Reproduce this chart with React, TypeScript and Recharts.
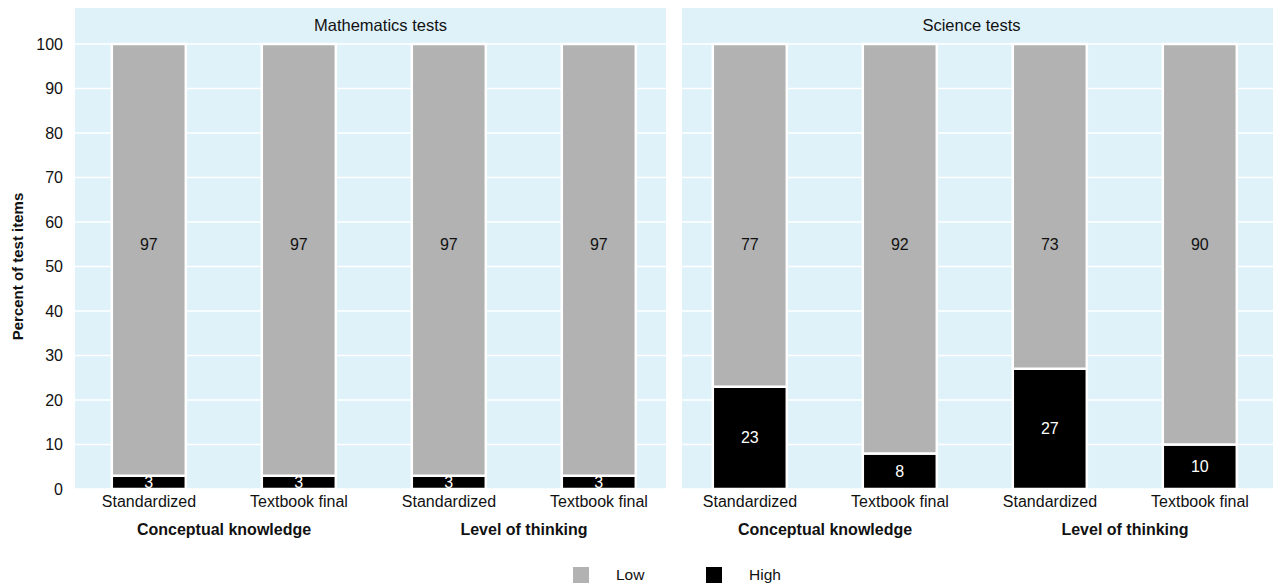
import React from 'react';
import { BarChart, Bar, XAxis, YAxis, CartesianGrid, LabelList, Label } from 'recharts';

const categories = ['Standardized', 'Textbook final', 'Standardized', 'Textbook final'];
const groups = ['Conceptual knowledge', 'Conceptual knowledge', 'Level of thinking', 'Level of thinking'];
const mathLow = [97, 97, 97, 97];
const mathHigh = [3, 3, 3, 3];
const sciLow = [77, 92, 73, 90];
const sciHigh = [23, 8, 27, 10];
const yTicks = [0, 10, 20, 30, 40, 50, 60, 70, 80, 90, 100];
const panelTitles = ['Mathematics tests', 'Science tests'];
const legendItems = [
  { name: 'Low', color: '#b2b2b2' },
  { name: 'High', color: '#000000' },
];

const LOW_LABEL_AT = 55;
const BG = '#dff2fa';
const FONT = '"Liberation Sans", Arial, Helvetica, sans-serif';

const mathData = categories.map((c, i) => ({ cat: c, group: groups[i], low: mathLow[i], high: mathHigh[i] }));
const sciData = categories.map((c, i) => ({ cat: c, group: groups[i], low: sciLow[i], high: sciHigh[i] }));

const lowLabel = (props: any) => {
  const { x, y, width, height, value } = props;
  const cy = y + ((100 - LOW_LABEL_AT) / value) * height;
  return (
    <text x={x + width / 2} y={cy} textAnchor="middle" dominantBaseline="central" fill="#111" fontSize={16}>
      {value}
    </text>
  );
};

const highLabel = (props: any) => {
  const { x, y, width, height, value } = props;
  return (
    <text x={x + width / 2} y={y + height / 2} textAnchor="middle" dominantBaseline="central" fill="#fff" fontSize={16}>
      {value}
    </text>
  );
};

const Panel = ({ data, showY, width }: { data: any[]; showY: boolean; width: number }) => (
  <BarChart
    width={width}
    height={550}
    data={data}
    margin={{ top: 44, right: 0, left: 0, bottom: 0 }}
    barCategoryGap="25.2%"
    style={{ overflow: 'visible' }}
  >
    <CartesianGrid stroke="#ffffff" strokeWidth={1.5} vertical={false} />
    <XAxis
      dataKey="cat"
      xAxisId={0}
      height={30}
      tickLine={false}
      axisLine={false}
      tickSize={0}
      tickMargin={7}
      tick={{ fill: '#111', fontSize: 16 }}
      interval={0}
    />
    <XAxis
      dataKey="group"
      xAxisId="grp"
      allowDuplicatedCategory={false}
      height={31}
      tickLine={false}
      axisLine={false}
      tickSize={0}
      tickMargin={5}
      tick={{ fill: '#111', fontSize: 16, fontWeight: 'bold' }}
      interval={0}
    />
    <YAxis
      hide={!showY}
      width={74}
      domain={[0, 100]}
      ticks={yTicks}
      tickLine={false}
      axisLine={false}
      tickSize={0}
      tickMargin={11}
      tick={{ fill: '#111', fontSize: 16 }}
      interval={0}
    >
      <Label
        content={(p: any) => {
          const vb = p.viewBox;
          const cx = vb.x + 17;
          const cy = vb.y + vb.height / 2;
          return (
            <text
              x={cx}
              y={cy}
              transform={`rotate(-90 ${cx} ${cy})`}
              textAnchor="middle"
              dominantBaseline="central"
              fontWeight="bold"
              fontSize={15}
              fill="#111"
            >
              Percent of test items
            </text>
          );
        }}
      />
    </YAxis>
    <Bar dataKey="high" stackId="s" fill="#000000" stroke="#ffffff" strokeWidth={2.5} isAnimationActive={false}>
      <LabelList dataKey="high" content={highLabel} />
    </Bar>
    <Bar dataKey="low" stackId="s" fill="#b2b2b2" stroke="#ffffff" strokeWidth={2.5} isAnimationActive={false}>
      <LabelList dataKey="low" content={lowLabel} />
    </Bar>
  </BarChart>
);

const bgStyle = (left: number, width: number): React.CSSProperties => ({
  position: 'absolute',
  left,
  top: 8,
  width,
  height: 481,
  background: BG,
});

const stripStyle = (left: number, width: number, shift: number): React.CSSProperties => ({
  position: 'absolute',
  left: left + shift,
  top: 8,
  width,
  height: 35,
  display: 'flex',
  alignItems: 'center',
  justifyContent: 'center',
  fontSize: 16.5,
  color: '#111',
});

export default function App() {
  return (
    <div style={{ position: 'absolute', left: 0, top: 0, width: 1273, height: 586, background: '#fff', fontFamily: FONT, overflow: 'hidden' }}>
      <div style={bgStyle(75, 591)} />
      <div style={bgStyle(682, 591)} />
      <div style={stripStyle(75, 591, 10)}>{panelTitles[0]}</div>
      <div style={stripStyle(682, 591, -6)}>{panelTitles[1]}</div>
      <div style={{ position: 'absolute', left: 0, top: 0 }}>
        <Panel data={mathData} showY={true} width={674} />
      </div>
      <div style={{ position: 'absolute', left: 675, top: 0 }}>
        <Panel data={sciData} showY={false} width={600} />
      </div>
      {legendItems.map((it, i) => (
        <div key={it.name} style={{ position: 'absolute', left: 573 + i * 133, top: 567, display: 'flex', alignItems: 'center' }}>
          <div style={{ width: 16, height: 16, background: it.color }} />
          <div style={{ marginLeft: 27, fontSize: 15.5, color: '#111', lineHeight: '16px' }}>{it.name}</div>
        </div>
      ))}
    </div>
  );
}
